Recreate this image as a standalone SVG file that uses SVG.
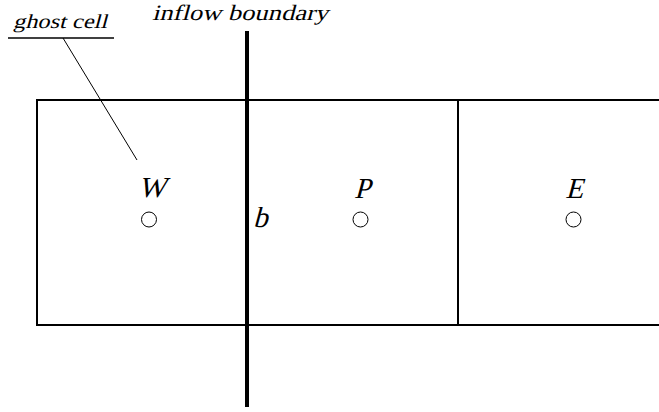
<svg xmlns="http://www.w3.org/2000/svg" width="659" height="412" viewBox="0 0 659 412">
<style>
.r{font-family:'Liberation Serif',serif;font-style:normal;fill:#000}
.lbl{font-size:29px}
.ln{stroke:#000;fill:none}
.pt{stroke:#000;fill:#fff;stroke-width:1}
</style>
<rect width="659" height="412" fill="#fff"/>
<g id="cells">
<path class="ln" stroke-width="2" d="M659,100 H37 V325 H659 M458,100 V325"/>
</g>
<g id="boundary">
<line class="ln" x1="247" y1="31" x2="247" y2="407" stroke-width="4"/>
<text class="r" transform="translate(152,20) skewX(-15)" font-size="22" textLength="176" lengthAdjust="spacingAndGlyphs">inflow boundary</text>
<text class="r lbl" transform="translate(253,227) skewX(-15)">b</text>
</g>
<g id="ghost">
<text class="r" transform="translate(13,28) skewX(-15)" font-size="20" textLength="94" lengthAdjust="spacingAndGlyphs">ghost cell</text>
</g>
<g id="W"><circle class="pt" cx="149" cy="219.5" r="7.5"/><text class="r lbl" transform="translate(152,197) skewX(-15)" text-anchor="middle">W</text></g>
<g id="P"><circle class="pt" cx="360.5" cy="219.5" r="7.5"/><text class="r lbl" transform="translate(362,198) skewX(-15)" text-anchor="middle">P</text></g>
<g id="E"><circle class="pt" cx="573.5" cy="219.5" r="7.5"/><text class="r lbl" transform="translate(574,198) skewX(-15)" text-anchor="middle">E</text></g>
<g id="connectors">
<path class="ln" stroke-width="1.3" stroke="#444" d="M8,38 H114"/>
<path class="ln" stroke-width="1" d="M63,38 L137,160"/>
</g>
</svg>
